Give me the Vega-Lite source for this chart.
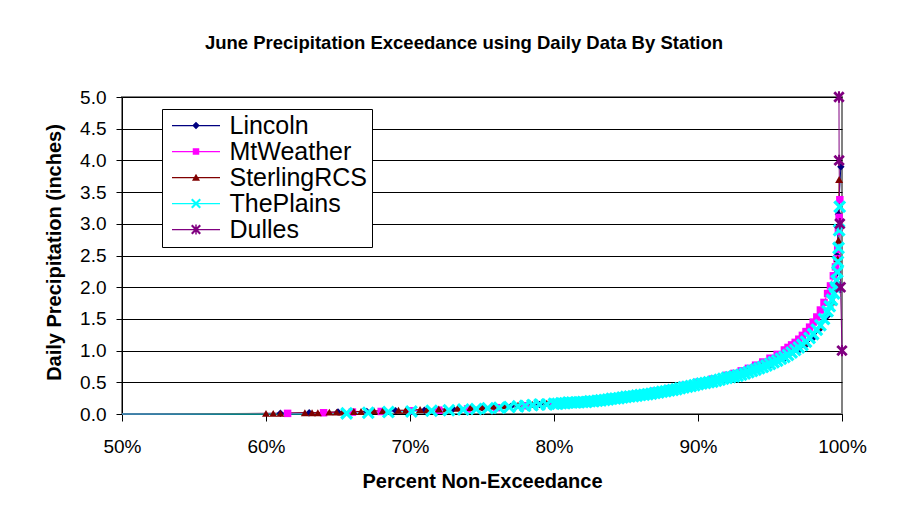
{
  "$schema": "https://vega.github.io/schema/vega-lite/v6.json",
  "width": 720,
  "height": 317,
  "autosize": {"type": "none"},
  "padding": {"left": 122, "top": 97, "right": 75, "bottom": 110},
  "background": "white",
  "title": {
    "text": "June Precipitation Exceedance using Daily Data By Station",
    "fontSize": 18.5, "fontWeight": "bold", "font": "Liberation Sans", "color": "black",
    "anchor": "middle", "frame": "group", "baseline": "alphabetic", "offset": 21, "dx": -18
  },
  "config": {
    "font": "Liberation Sans",
    "view": {"stroke": "#808080", "strokeWidth": 2},
    "axis": {"labelColor": "black", "titleColor": "black", "labelFont": "Liberation Sans", "titleFont": "Liberation Sans"}
  },
  "data": {"values": [
    {"s":"Lincoln","p":0.5,"v":0},{"s":"Lincoln","p":0.61,"v":0.01},{"s":"Lincoln","p":0.63,"v":0.02},{"s":"Lincoln","p":0.65,"v":0.03},{"s":"Lincoln","p":0.67,"v":0.04},{"s":"Lincoln","p":0.69,"v":0.05},{"s":"Lincoln","p":0.71,"v":0.06},{"s":"Lincoln","p":0.73,"v":0.08},{"s":"Lincoln","p":0.75,"v":0.10},{"s":"Lincoln","p":0.77,"v":0.12},{"s":"Lincoln","p":0.79,"v":0.15},{"s":"Lincoln","p":0.81,"v":0.18},{"s":"Lincoln","p":0.83,"v":0.22},{"s":"Lincoln","p":0.85,"v":0.27},{"s":"Lincoln","p":0.86,"v":0.30},{"s":"Lincoln","p":0.87,"v":0.33},{"s":"Lincoln","p":0.88,"v":0.37},{"s":"Lincoln","p":0.89,"v":0.41},{"s":"Lincoln","p":0.90,"v":0.46},{"s":"Lincoln","p":0.91,"v":0.51},{"s":"Lincoln","p":0.92,"v":0.56},{"s":"Lincoln","p":0.93,"v":0.62},{"s":"Lincoln","p":0.94,"v":0.69},{"s":"Lincoln","p":0.95,"v":0.77},{"s":"Lincoln","p":0.96,"v":0.87},{"s":"Lincoln","p":0.97,"v":1.00},{"s":"Lincoln","p":0.975,"v":1.09},{"s":"Lincoln","p":0.98,"v":1.20},{"s":"Lincoln","p":0.985,"v":1.35},{"s":"Lincoln","p":0.99,"v":1.55},{"s":"Lincoln","p":0.993,"v":1.75},{"s":"Lincoln","p":0.995,"v":1.95},{"s":"Lincoln","p":0.9955,"v":2.2},{"s":"Lincoln","p":0.9965,"v":2.5},{"s":"Lincoln","p":0.9975,"v":3.15},{"s":"Lincoln","p":0.9992,"v":3.9},
    {"s":"MtWeather","p":0.5,"v":0},{"s":"MtWeather","p":0.615,"v":0.01},{"s":"MtWeather","p":0.64,"v":0.02},{"s":"MtWeather","p":0.66,"v":0.03},{"s":"MtWeather","p":0.68,"v":0.04},{"s":"MtWeather","p":0.70,"v":0.05},{"s":"MtWeather","p":0.72,"v":0.06},{"s":"MtWeather","p":0.74,"v":0.08},{"s":"MtWeather","p":0.76,"v":0.10},{"s":"MtWeather","p":0.78,"v":0.13},{"s":"MtWeather","p":0.80,"v":0.17},{"s":"MtWeather","p":0.82,"v":0.21},{"s":"MtWeather","p":0.84,"v":0.26},{"s":"MtWeather","p":0.85,"v":0.29},{"s":"MtWeather","p":0.86,"v":0.32},{"s":"MtWeather","p":0.87,"v":0.36},{"s":"MtWeather","p":0.88,"v":0.40},{"s":"MtWeather","p":0.89,"v":0.45},{"s":"MtWeather","p":0.90,"v":0.50},{"s":"MtWeather","p":0.91,"v":0.55},{"s":"MtWeather","p":0.92,"v":0.61},{"s":"MtWeather","p":0.925,"v":0.64},{"s":"MtWeather","p":0.93,"v":0.68},{"s":"MtWeather","p":0.935,"v":0.72},{"s":"MtWeather","p":0.94,"v":0.77},{"s":"MtWeather","p":0.945,"v":0.82},{"s":"MtWeather","p":0.95,"v":0.88},{"s":"MtWeather","p":0.955,"v":0.94},{"s":"MtWeather","p":0.96,"v":1.01},{"s":"MtWeather","p":0.9625,"v":1.05},{"s":"MtWeather","p":0.965,"v":1.09},{"s":"MtWeather","p":0.9675,"v":1.13},{"s":"MtWeather","p":0.97,"v":1.18},{"s":"MtWeather","p":0.9725,"v":1.24},{"s":"MtWeather","p":0.975,"v":1.30},{"s":"MtWeather","p":0.9775,"v":1.37},{"s":"MtWeather","p":0.98,"v":1.45},{"s":"MtWeather","p":0.9825,"v":1.53},{"s":"MtWeather","p":0.985,"v":1.64},{"s":"MtWeather","p":0.9875,"v":1.76},{"s":"MtWeather","p":0.99,"v":1.90},{"s":"MtWeather","p":0.992,"v":2.02},{"s":"MtWeather","p":0.994,"v":2.18},{"s":"MtWeather","p":0.9955,"v":2.32},{"s":"MtWeather","p":0.9965,"v":2.45},{"s":"MtWeather","p":0.997,"v":2.6},{"s":"MtWeather","p":0.9975,"v":2.88},{"s":"MtWeather","p":0.998,"v":3.1},{"s":"MtWeather","p":0.9985,"v":3.38},
    {"s":"SterlingRCS","p":0.5,"v":0},{"s":"SterlingRCS","p":0.60,"v":0.01},{"s":"SterlingRCS","p":0.605,"v":0.01},{"s":"SterlingRCS","p":0.61,"v":0.01},{"s":"SterlingRCS","p":0.627,"v":0.02},{"s":"SterlingRCS","p":0.632,"v":0.02},{"s":"SterlingRCS","p":0.636,"v":0.02},{"s":"SterlingRCS","p":0.644,"v":0.03},{"s":"SterlingRCS","p":0.649,"v":0.03},{"s":"SterlingRCS","p":0.653,"v":0.03},{"s":"SterlingRCS","p":0.661,"v":0.04},{"s":"SterlingRCS","p":0.666,"v":0.04},{"s":"SterlingRCS","p":0.675,"v":0.05},{"s":"SterlingRCS","p":0.681,"v":0.05},{"s":"SterlingRCS","p":0.692,"v":0.06},{"s":"SterlingRCS","p":0.697,"v":0.06},{"s":"SterlingRCS","p":0.707,"v":0.07},{"s":"SterlingRCS","p":0.712,"v":0.07},{"s":"SterlingRCS","p":0.72,"v":0.08},{"s":"SterlingRCS","p":0.725,"v":0.08},{"s":"SterlingRCS","p":0.733,"v":0.09},{"s":"SterlingRCS","p":0.742,"v":0.10},{"s":"SterlingRCS","p":0.75,"v":0.11},{"s":"SterlingRCS","p":0.758,"v":0.12},{"s":"SterlingRCS","p":0.765,"v":0.13},{"s":"SterlingRCS","p":0.775,"v":0.14},{"s":"SterlingRCS","p":0.785,"v":0.15},{"s":"SterlingRCS","p":0.795,"v":0.17},{"s":"SterlingRCS","p":0.805,"v":0.19},{"s":"SterlingRCS","p":0.815,"v":0.21},{"s":"SterlingRCS","p":0.825,"v":0.23},{"s":"SterlingRCS","p":0.835,"v":0.25},{"s":"SterlingRCS","p":0.845,"v":0.28},{"s":"SterlingRCS","p":0.855,"v":0.31},{"s":"SterlingRCS","p":0.865,"v":0.34},{"s":"SterlingRCS","p":0.875,"v":0.38},{"s":"SterlingRCS","p":0.885,"v":0.42},{"s":"SterlingRCS","p":0.895,"v":0.47},{"s":"SterlingRCS","p":0.905,"v":0.52},{"s":"SterlingRCS","p":0.915,"v":0.57},{"s":"SterlingRCS","p":0.925,"v":0.63},{"s":"SterlingRCS","p":0.935,"v":0.70},{"s":"SterlingRCS","p":0.945,"v":0.78},{"s":"SterlingRCS","p":0.955,"v":0.87},{"s":"SterlingRCS","p":0.965,"v":0.98},{"s":"SterlingRCS","p":0.975,"v":1.13},{"s":"SterlingRCS","p":0.985,"v":1.38},{"s":"SterlingRCS","p":0.99,"v":1.6},{"s":"SterlingRCS","p":0.994,"v":1.77},{"s":"SterlingRCS","p":0.996,"v":2.0},{"s":"SterlingRCS","p":0.997,"v":2.45},{"s":"SterlingRCS","p":0.9975,"v":2.74},{"s":"SterlingRCS","p":0.998,"v":3.7},
    {"s":"ThePlains","p":0.5,"v":0},{"s":"ThePlains","p":0.645,"v":0},{"s":"ThePlains","p":0.656,"v":0.01},{"s":"ThePlains","p":0.671,"v":0.02},{"s":"ThePlains","p":0.685,"v":0.03},{"s":"ThePlains","p":0.701,"v":0.04},{"s":"ThePlains","p":0.715,"v":0.05},{"s":"ThePlains","p":0.727,"v":0.06},{"s":"ThePlains","p":0.737,"v":0.07},{"s":"ThePlains","p":0.746,"v":0.08},{"s":"ThePlains","p":0.754,"v":0.09},{"s":"ThePlains","p":0.762,"v":0.10},{"s":"ThePlains","p":0.769,"v":0.11},{"s":"ThePlains","p":0.775,"v":0.12},{"s":"ThePlains","p":0.78,"v":0.13},{"s":"ThePlains","p":0.785,"v":0.14},{"s":"ThePlains","p":0.79,"v":0.15},{"s":"ThePlains","p":0.795,"v":0.15},
    {"s":"ThePlains","p":0.80,"v":0.16},{"s":"ThePlains","p":0.8025,"v":0.16},{"s":"ThePlains","p":0.805,"v":0.17},{"s":"ThePlains","p":0.8075,"v":0.17},{"s":"ThePlains","p":0.81,"v":0.18},{"s":"ThePlains","p":0.8125,"v":0.18},{"s":"ThePlains","p":0.815,"v":0.18},{"s":"ThePlains","p":0.8175,"v":0.185},{"s":"ThePlains","p":0.82,"v":0.19},{"s":"ThePlains","p":0.8225,"v":0.19},{"s":"ThePlains","p":0.825,"v":0.20},{"s":"ThePlains","p":0.8275,"v":0.20},{"s":"ThePlains","p":0.83,"v":0.21},{"s":"ThePlains","p":0.8325,"v":0.215},{"s":"ThePlains","p":0.835,"v":0.22},{"s":"ThePlains","p":0.8375,"v":0.23},{"s":"ThePlains","p":0.84,"v":0.24},{"s":"ThePlains","p":0.8425,"v":0.245},{"s":"ThePlains","p":0.845,"v":0.25},{"s":"ThePlains","p":0.8475,"v":0.26},{"s":"ThePlains","p":0.85,"v":0.27},{"s":"ThePlains","p":0.8525,"v":0.275},{"s":"ThePlains","p":0.855,"v":0.28},{"s":"ThePlains","p":0.8575,"v":0.29},{"s":"ThePlains","p":0.86,"v":0.30},{"s":"ThePlains","p":0.8625,"v":0.305},{"s":"ThePlains","p":0.865,"v":0.31},{"s":"ThePlains","p":0.8675,"v":0.32},{"s":"ThePlains","p":0.87,"v":0.33},{"s":"ThePlains","p":0.8725,"v":0.34},{"s":"ThePlains","p":0.875,"v":0.35},{"s":"ThePlains","p":0.8775,"v":0.36},{"s":"ThePlains","p":0.88,"v":0.37},{"s":"ThePlains","p":0.8825,"v":0.38},{"s":"ThePlains","p":0.885,"v":0.39},{"s":"ThePlains","p":0.8875,"v":0.405},{"s":"ThePlains","p":0.89,"v":0.42},{"s":"ThePlains","p":0.8925,"v":0.43},{"s":"ThePlains","p":0.895,"v":0.44},{"s":"ThePlains","p":0.8975,"v":0.455},{"s":"ThePlains","p":0.90,"v":0.47},{"s":"ThePlains","p":0.9025,"v":0.48},{"s":"ThePlains","p":0.905,"v":0.49},{"s":"ThePlains","p":0.9075,"v":0.50},{"s":"ThePlains","p":0.91,"v":0.51},{"s":"ThePlains","p":0.9125,"v":0.525},{"s":"ThePlains","p":0.915,"v":0.54},{"s":"ThePlains","p":0.9175,"v":0.555},{"s":"ThePlains","p":0.92,"v":0.57},{"s":"ThePlains","p":0.9225,"v":0.58},{"s":"ThePlains","p":0.925,"v":0.59},{"s":"ThePlains","p":0.9275,"v":0.605},{"s":"ThePlains","p":0.93,"v":0.62},{"s":"ThePlains","p":0.9325,"v":0.64},{"s":"ThePlains","p":0.935,"v":0.66},{"s":"ThePlains","p":0.9375,"v":0.68},{"s":"ThePlains","p":0.94,"v":0.70},{"s":"ThePlains","p":0.9425,"v":0.72},{"s":"ThePlains","p":0.945,"v":0.74},{"s":"ThePlains","p":0.9475,"v":0.765},{"s":"ThePlains","p":0.95,"v":0.79},{"s":"ThePlains","p":0.9525,"v":0.815},{"s":"ThePlains","p":0.955,"v":0.84},{"s":"ThePlains","p":0.9575,"v":0.87},{"s":"ThePlains","p":0.96,"v":0.90},{"s":"ThePlains","p":0.9625,"v":0.93},{"s":"ThePlains","p":0.965,"v":0.97},{"s":"ThePlains","p":0.9675,"v":1.01},{"s":"ThePlains","p":0.97,"v":1.05},{"s":"ThePlains","p":0.9725,"v":1.09},{"s":"ThePlains","p":0.975,"v":1.14},{"s":"ThePlains","p":0.9775,"v":1.20},{"s":"ThePlains","p":0.98,"v":1.26},{"s":"ThePlains","p":0.9825,"v":1.33},{"s":"ThePlains","p":0.985,"v":1.40},{"s":"ThePlains","p":0.9875,"v":1.50},{"s":"ThePlains","p":0.99,"v":1.62},{"s":"ThePlains","p":0.9915,"v":1.70},{"s":"ThePlains","p":0.993,"v":1.80},{"s":"ThePlains","p":0.9945,"v":1.90},{"s":"ThePlains","p":0.9955,"v":2.00},{"s":"ThePlains","p":0.9962,"v":2.10},{"s":"ThePlains","p":0.9968,"v":2.24},{"s":"ThePlains","p":0.9972,"v":2.40},{"s":"ThePlains","p":0.9976,"v":2.62},{"s":"ThePlains","p":0.998,"v":2.90},{"s":"ThePlains","p":0.9984,"v":3.27},
    {"s":"Dulles","p":0.9979,"v":5.0},{"s":"Dulles","p":0.998,"v":4.0},{"s":"Dulles","p":0.9985,"v":3.0},{"s":"Dulles","p":0.999,"v":2.0},{"s":"Dulles","p":1.0,"v":1.0}
  ]},
  "encoding": {
    "x": {
      "field": "p", "type": "quantitative",
      "scale": {"domain": [0.5, 1], "nice": false, "zero": false},
      "axis": {
        "values": [0.5, 0.6, 0.7, 0.8, 0.9, 1.0], "format": ".0%",
        "labelFontSize": 19, "labelPadding": 16, "labelFlush": false, "labelOverlap": false,
        "tickSize": 7, "tickColor": "black", "domainColor": "black", "grid": false,
        "title": "Percent Non-Exceedance", "titleFontSize": 20, "titleFontWeight": "bold",
        "titleY": 73, "titleBaseline": "alphabetic"
      }
    },
    "y": {
      "field": "v", "type": "quantitative",
      "scale": {"domain": [0, 5], "nice": false},
      "axis": {
        "values": [0, 0.5, 1, 1.5, 2, 2.5, 3, 3.5, 4, 4.5, 5], "format": ".1f",
        "labelFontSize": 19, "labelPadding": 10, "labelOverlap": false,
        "tickSize": 6, "tickColor": "black", "domainColor": "black",
        "grid": true, "gridColor": "black", "gridOpacity": 1, "gridWidth": 1,
        "title": "Daily Precipitation (inches)", "titleFontSize": 20, "titleFontWeight": "bold",
        "titleX": -62, "titleY": 155, "titleAngle": 270, "titleBaseline": "alphabetic"
      }
    }
  },
  "layer": [
    {
      "mark": {"type": "line", "strokeWidth": 1},
      "encoding": {
        "color": {"field": "s", "type": "nominal",
          "scale": {"domain": ["Lincoln","MtWeather","SterlingRCS","ThePlains","Dulles"], "range": ["#000080","#FF00FF","#800000","#00FFFF","#800080"]},
          "legend": null}
      }
    },
    {
      "transform": [{"filter": "datum.v > 0"}],
      "mark": {"type": "point", "filled": true, "opacity": 1, "strokeWidth": 0},
      "encoding": {
        "color": {"field": "s", "type": "nominal",
          "scale": {"domain": ["Lincoln","MtWeather","SterlingRCS","ThePlains","Dulles"], "range": ["#000080","#FF00FF","#800000","#00FFFF","#800080"]},
          "legend": null},
        "shape": {"field": "s", "type": "nominal",
          "scale": {"domain": ["Lincoln","MtWeather","SterlingRCS","ThePlains","Dulles"], "range": [
            "diamond", "square", "triangle-up",
            "M-0.65,-1L0,-0.35L0.65,-1L1,-0.65L0.35,0L1,0.65L0.65,1L0,0.35L-0.65,1L-1,0.65L-0.35,0L-1,-0.65Z",
            "M-0.65,-1L0,-0.35L0.65,-1L1,-0.65L0.35,0L1,0.65L0.65,1L0,0.35L-0.65,1L-1,0.65L-0.35,0L-1,-0.65ZM-0.18,-1L0.18,-1L0.18,1L-0.18,1Z"
          ]},
          "legend": null},
        "size": {"field": "s", "type": "nominal",
          "scale": {"type": "ordinal", "domain": ["Lincoln","MtWeather","SterlingRCS","ThePlains","Dulles"], "range": [56, 56, 64, 170, 130]},
          "legend": null}
      }
    },
    {
      "transform": [{"filter": "datum.v > 100"}],
      "mark": {"type": "point", "filled": true, "opacity": 1, "strokeWidth": 0},
      "encoding": {
        "color": {"field": "s", "type": "nominal",
          "scale": {"domain": ["Lincoln","MtWeather","SterlingRCS","ThePlains","Dulles"], "range": ["#000080","#FF00FF","#800000","#00FFFF","#800080"]},
          "legend": {"orient": "none", "legendX": 40, "legendY": 12, "title": null,
            "labelFontSize": 25, "labelFont": "Liberation Sans", "labelColor": "black", "labelLimit": 400,
            "symbolSize": 625, "symbolStrokeWidth": 0, "symbolOffset": 17.5, "labelOffset": 21,
            "padding": 4, "rowPadding": 0, "strokeColor": "black", "fillColor": "white", "cornerRadius": 0, "symbolOpacity": 1}},
        "shape": {"field": "s", "type": "nominal",
          "scale": {"domain": ["Lincoln","MtWeather","SterlingRCS","ThePlains","Dulles"], "range": [
            "M-1.92,-0.05L1.92,-0.05L1.92,0.05L-1.92,0.05ZM0,-0.3L0.3,0L0,0.3L-0.3,0Z",
            "M-1.92,-0.05L1.92,-0.05L1.92,0.05L-1.92,0.05ZM-0.26,-0.26L0.26,-0.26L0.26,0.26L-0.26,0.26Z",
            "M-1.92,-0.05L1.92,-0.05L1.92,0.05L-1.92,0.05ZM0,-0.3L0.32,0.26L-0.32,0.26Z",
            "M-1.92,-0.05L1.92,-0.05L1.92,0.05L-1.92,0.05ZM-0.28,-0.4L0,-0.12L0.28,-0.4L0.4,-0.28L0.12,0L0.4,0.28L0.28,0.4L0,0.12L-0.28,0.4L-0.4,0.28L-0.12,0L-0.4,-0.28Z",
            "M-1.92,-0.05L1.92,-0.05L1.92,0.05L-1.92,0.05ZM-0.28,-0.4L0,-0.12L0.28,-0.4L0.4,-0.28L0.12,0L0.4,0.28L0.28,0.4L0,0.12L-0.28,0.4L-0.4,0.28L-0.12,0L-0.4,-0.28ZM-0.06,-0.4L0.06,-0.4L0.06,0.4L-0.06,0.4Z"
          ]},
          "legend": {"orient": "none", "legendX": 40, "legendY": 12, "title": null,
            "labelFontSize": 25, "labelFont": "Liberation Sans", "labelColor": "black", "labelLimit": 400,
            "symbolSize": 625, "symbolStrokeWidth": 0, "symbolOffset": 17.5, "labelOffset": 21,
            "padding": 4, "rowPadding": 0, "strokeColor": "black", "fillColor": "white", "cornerRadius": 0, "symbolOpacity": 1}}
      }
    }
  ],
  "resolve": {"scale": {"color": "independent", "shape": "independent", "size": "independent"}}
}
